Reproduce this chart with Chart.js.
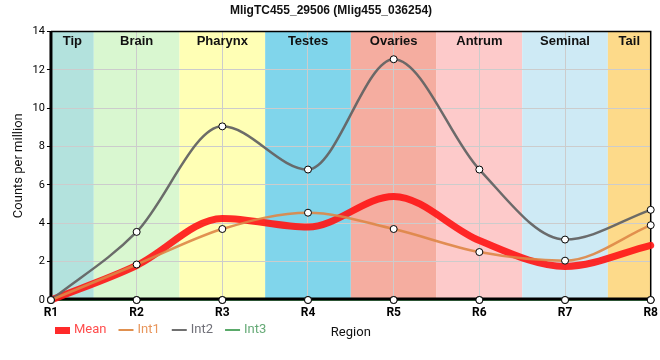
<!DOCTYPE html>
<html>
<head>
<meta charset="utf-8">
<script src="https://cdn.jsdelivr.net/npm/chart.js@4/dist/chart.umd.min.js"></script>
<style>
html,body{margin:0;padding:0;background:#fff;}
#wrap{width:660px;height:360px;position:relative;}
</style>
</head>
<body>
<div id="wrap"><canvas id="c" width="660" height="360"></canvas></div>
<script>
const categories = ["R1","R2","R3","R4","R5","R6","R7","R8"];
const meanValues = [0, 1.8, 4.25, 3.8, 5.4, 3.1, 1.75, 2.85];
const int1Values = [0, 1.85, 3.7, 4.55, 3.7, 2.5, 2.05, 3.9];
const int2Values = [0, 3.55, 9.05, 6.8, 12.55, 6.8, 3.15, 4.7];
const int3Values = [0, 0, 0, 0, 0, 0, 0, 0];
const yTicks = [0, 2, 4, 6, 8, 10, 12, 14];
const bandNames = ["Tip","Brain","Pharynx","Testes","Ovaries","Antrum","Seminal","Tail"];
const bandStart = [0, 0.5, 1.5, 2.5, 3.5, 4.5, 5.5, 6.5];
const bandEnd   = [0.5, 1.5, 2.5, 3.5, 4.5, 5.5, 6.5, 7];
const bandColors = ["#b3e2dd","#d9f7d0","#ffffb5","#80d5eb","#f5ada0","#fdcaca","#ceeaf5","#fdda8a"];
const chartTitle = "MligTC455_29506 (Mlig455_036254)";

const FONT = "'Liberation Sans', Arial, sans-serif";
const FONT2 = "Roboto, 'Noto Sans', sans-serif";

function drawFrame(chart) {
  const {ctx, chartArea} = chart;
  ctx.save();
  ctx.strokeStyle = '#000';
  ctx.lineWidth = 1.5;
  ctx.beginPath();
  ctx.moveTo(chartArea.left, chartArea.top);
  ctx.lineTo(chartArea.right, chartArea.top);
  ctx.lineTo(chartArea.right, chartArea.bottom);
  ctx.stroke();
  ctx.lineWidth = 3;
  ctx.beginPath();
  ctx.moveTo(chartArea.left, chartArea.top);
  ctx.lineTo(chartArea.left, chartArea.bottom - 1);
  ctx.lineTo(chartArea.right, chartArea.bottom - 1);
  ctx.stroke();
  ctx.restore();
}

const bandsPlugin = {
  id: 'bands',
  beforeDraw(chart) {
    const {ctx, chartArea, scales} = chart;
    const x = scales.x;
    ctx.save();
    for (let i = 0; i < bandNames.length; i++) {
      const x0 = x.getPixelForValue(bandStart[i]);
      const x1 = x.getPixelForValue(bandEnd[i]);
      ctx.fillStyle = bandColors[i];
      ctx.fillRect(x0, chartArea.top, x1 - x0, chartArea.bottom - chartArea.top);
    }
    ctx.restore();
  },
  afterDatasetDraw(chart, args) {
    if (args.index === 0) drawFrame(chart);
  },
  afterDatasetsDraw(chart) {
    const {ctx, chartArea, scales} = chart;
    const x = scales.x;
    ctx.save();
    chart.getDatasetMeta(0).data.forEach(p => p.draw(ctx, chartArea));
    ctx.fillStyle = '#111';
    ctx.font = "bold 13px " + FONT;
    ctx.textAlign = 'center';
    ctx.textBaseline = 'middle';
    for (let i = 0; i < bandNames.length; i++) {
      const x0 = x.getPixelForValue(bandStart[i]);
      const x1 = x.getPixelForValue(bandEnd[i]);
      ctx.fillText(bandNames[i], (x0 + x1) / 2, chartArea.top + 10);
    }
    ctx.restore();
  },
  afterDraw(chart) {
    const {ctx} = chart;
    ctx.save();
    ctx.font = "13px " + FONT2;
    ctx.textBaseline = 'middle';
    const y = 330;
    let xp = 55;
    const items = [
      {label: 'Mean', color: '#ff2a2a', text: '#ff4d4d', box: true},
      {label: 'Int1', color: '#e0904f', text: '#e8965c'},
      {label: 'Int2', color: '#707070', text: '#707078'},
      {label: 'Int3', color: '#5aaa6a', text: '#66aa77'}
    ];
    items.forEach(it => {
      if (it.box) {
        ctx.fillStyle = it.color;
        ctx.fillRect(xp, y - 3, 15, 7);
      } else {
        ctx.strokeStyle = it.color;
        ctx.lineWidth = 2;
        ctx.beginPath();
        ctx.moveTo(xp, y);
        ctx.lineTo(xp + 15, y);
        ctx.stroke();
      }
      ctx.fillStyle = it.text;
      ctx.fillText(it.label, xp + 19, y);
      xp += 19 + ctx.measureText(it.label).width + 12;
    });
    ctx.restore();
  }
};

const pointStyle = {pointRadius: 3.5, pointBackgroundColor: '#fff', pointBorderColor: '#000', pointBorderWidth: 1, pointHoverRadius: 3.5};

new Chart(document.getElementById('c'), {
  type: 'line',
  data: {
    labels: categories,
    datasets: [
      Object.assign({label: 'Int3', data: int3Values, borderColor: '#5aaa6a', borderWidth: 2, order: 9}, pointStyle),
      Object.assign({label: 'Int1', data: int1Values, borderColor: 'rgba(222,134,70,0.9)', borderWidth: 2.5, order: 2}, pointStyle),
      Object.assign({label: 'Int2', data: int2Values, borderColor: 'rgba(100,100,100,0.95)', borderWidth: 2.5, order: 3}, pointStyle),
      {label: 'Mean', data: meanValues, borderColor: 'rgba(255,20,20,0.9)', borderWidth: 7, pointRadius: 0, order: 4}
    ]
  },
  options: {
    responsive: false,
    animation: false,
    events: [],
    clip: false,
    elements: {line: {cubicInterpolationMode: 'monotone', capBezierPoints: true, borderCapStyle: 'round'}},
    layout: {padding: {left: 11, right: 9, top: 0, bottom: 19}},
    plugins: {
      legend: {display: false},
      tooltip: {enabled: false},
      title: {display: true, text: chartTitle, color: '#111', font: {family: FONT, size: 12, weight: 'bold'}, padding: {top: 3, bottom: 14}}
    },
    scales: {
      x: {
        type: 'category',
        offset: false,
        grid: {color: '#cccccc', lineWidth: 1, tickColor: '#000', tickLength: 4, drawTicks: true},
        border: {display: false},
        ticks: {color: '#000', font: {family: FONT2, size: 12, weight: 'bold'}, padding: 2, maxRotation: 0},
        title: {display: true, text: 'Region', color: '#111', font: {family: FONT2, size: 13}, padding: {top: 3, bottom: 0}}
      },
      y: {
        min: 0, max: 14,
        afterBuildTicks(axis) { axis.ticks = yTicks.map(v => ({value: v})); },
        grid: {color: '#cccccc', lineWidth: 1, tickColor: '#000', tickLength: 4},
        border: {display: false},
        ticks: {color: '#000', font: {family: FONT2, size: 11}, padding: 2},
        title: {display: true, text: 'Counts per million', color: '#111', font: {family: FONT2, size: 13}, padding: {top: 0, bottom: 4}}
      }
    }
  },
  plugins: [bandsPlugin]
});
</script>
</body>
</html>
